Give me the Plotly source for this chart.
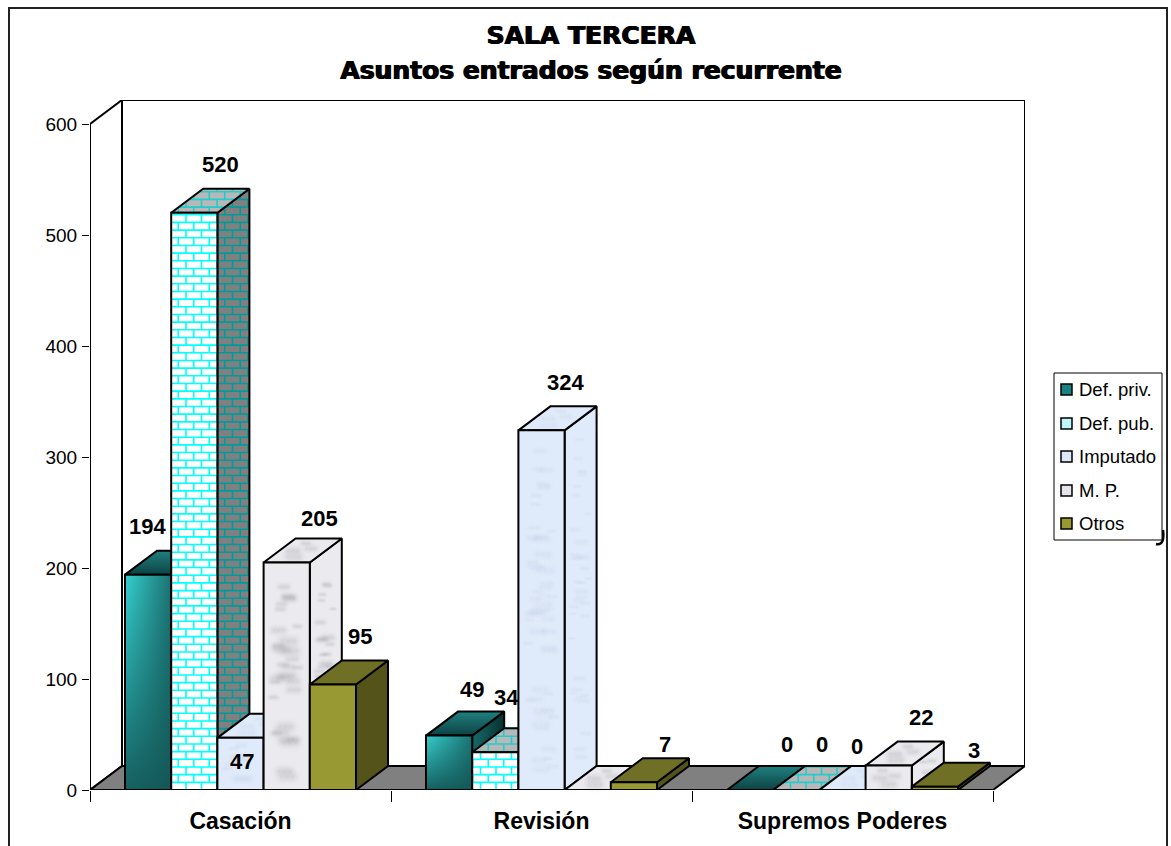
import plotly.graph_objects as go

title_lines = ['SALA TERCERA', 'Asuntos entrados según recurrente']
categories = ['Casación', 'Revisión', 'Supremos Poderes']
series_names = ['Def. priv.', 'Def. pub.', 'Imputado', 'M. P.', 'Otros']

def_priv = [194, 49, 0]
def_pub = [520, 34, 0]
imputado = [47, 324, 0]
mp = [205, 0, 22]
otros = [95, 7, 3]
series_values = [def_priv, def_pub, imputado, mp, otros]

y_ticks = [0, 100, 200, 300, 400, 500, 600]

# label shift from the top centre of each bar, in pixels (moved by hand in the original)
label_shifts = [
    [(-1, 48), (23, 46), (37, 46)],
    [(26, 48), (11, 55), (26, 46)],
    [(1, -24), (24, 48), (14, 44)],
    [(33, 44), None, (32, 48)],
    [(27, 48), (31, 38), (39, 36)],
]

# plot box in page pixels
LEFT, BOTTOM, RIGHT, TOP = 90, 790, 1025, 100
CAT_PX = 301
UNIT_PX = 1.11
DEPTH_X = 32 / CAT_PX
DEPTH_Y = 24 / UNIT_PX
BAR_W = 46.2 / CAT_PX
GAP = 35 / CAT_PX
FONT = 'Liberation Sans'
LINE = 2

fig = go.Figure()


def px(x):
    return (x - LEFT) / (RIGHT - LEFT)


def py(y):
    return (BOTTOM - y) / (BOTTOM - TOP)


def face(poly, color=None, line=True, gradient=None):
    xs = [p[0] for p in poly] + [poly[0][0]]
    ys = [p[1] for p in poly] + [poly[0][1]]
    t = dict(x=xs, y=ys, mode='lines', fill='toself', hoverinfo='skip', showlegend=False,
             cliponaxis=False, line=dict(color='black' if line else 'rgba(0,0,0,0)', width=LINE if line else 0))
    if gradient:
        t['fillgradient'] = dict(type=gradient[0], colorscale=[[0, gradient[1]], [1, gradient[2]]])
    else:
        t['fillcolor'] = color or 'rgba(0,0,0,0)'
    fig.add_trace(go.Scatter(**t))


def slice_poly(poly, along_y, val):
    # range of a convex polygon cut at x=val or y=val, in pixels
    hits = []
    n = len(poly)
    for k in range(n):
        a, b = poly[k], poly[(k + 1) % n]
        a0, a1 = (a[1], a[0]) if along_y else a
        b0, b1 = (b[1], b[0]) if along_y else b
        if a0 == b0:
            if a0 == val:
                hits += [a1, b1]
        elif min(a0, b0) <= val <= max(a0, b0):
            hits.append(a1 + (val - a0) / (b0 - a0) * (b1 - a1))
    return (min(hits), max(hits)) if hits else None


def bricks(poly, color, width=1.6):
    # mortar lines of the brick fill: the pattern stays square to the page on every face
    pts = [(p[0] * CAT_PX, p[1] * UNIT_PX) for p in poly]
    ymin, ymax = min(p[1] for p in pts), max(p[1] for p in pts)
    xmin, xmax = min(p[0] for p in pts), max(p[0] for p in pts)
    xs, ys = [], []
    row_h, brick_w = 7.67, 15.5
    row = int(ymin // row_h)
    while row * row_h <= ymax:
        y = row * row_h
        cut = slice_poly(pts, True, y) if ymin <= y <= ymax else None
        if cut:
            xs += [cut[0] / CAT_PX, cut[1] / CAT_PX, None]
            ys += [y / UNIT_PX, y / UNIT_PX, None]
        j = int(xmin // brick_w) - 1
        while j * brick_w <= xmax:
            x = j * brick_w + (row % 2) * brick_w / 2 + 3
            cutx = slice_poly(pts, False, x) if xmin <= x <= xmax else None
            if cutx:
                y0, y1 = max(y, cutx[0]), min(y + row_h, cutx[1])
                if y1 > y0:
                    xs += [x / CAT_PX, x / CAT_PX, None]
                    ys += [y0 / UNIT_PX, y1 / UNIT_PX, None]
            j += 1
        row += 1
    fig.add_trace(go.Scatter(x=xs, y=ys, mode='lines', line=dict(color=color, width=width),
                             hoverinfo='skip', showlegend=False, cliponaxis=False))


def marble(poly, color):
    # soft cloudy blotches for the textured fills (p0, p1, p3 span the face)
    p0, p1, p3 = poly[0], poly[1], poly[3]
    ux, uy = p1[0] - p0[0], p1[1] - p0[1]
    vx, vy = p3[0] - p0[0], p3[1] - p0[1]
    wide = ux * CAT_PX
    high = abs(vy * UNIT_PX)
    biggest = min(24, wide * 0.5, max(high, 10))
    xs, ys, sizes = [], [], []
    for k in range(1, int(wide * high / 330) + 2):
        size = biggest * (0.45 + 0.55 * ((k * 0.381966) % 1))
        step = size * 0.28
        edge = min(0.5, (size / 2 + step) / wide)
        u = edge + (1 - 2 * edge) * ((k * 0.7548777) % 1)
        v = 0.05 + 0.9 * ((k * 0.5698403 + k * k * 0.0131) % 1)
        for shift in (-step, 0, step):
            xs.append(p0[0] + u * ux + v * vx + shift / CAT_PX)
            ys.append(p0[1] + u * uy + v * vy)
            sizes.append(size)
    fig.add_trace(go.Scatter(x=xs, y=ys, mode='markers', hoverinfo='skip', showlegend=False, cliponaxis=False,
                             marker=dict(size=sizes, color='rgba(255,255,255,0)', line=dict(width=0),
                                         gradient=dict(type='radial', color=color))))


# walls and floor
top_y = (BOTTOM - TOP) / UNIT_PX
x_end = 3
face([(0, 0), (DEPTH_X, DEPTH_Y), (DEPTH_X, top_y), (0, 600)], 'white')
face([(DEPTH_X, DEPTH_Y), (x_end + DEPTH_X, DEPTH_Y), (x_end + DEPTH_X, top_y), (DEPTH_X, top_y)], 'white')
face([(0, 0), (x_end, 0), (x_end + DEPTH_X, DEPTH_Y), (DEPTH_X, DEPTH_Y)], '#808080')


def draw_teal(front, side, top):
    face(side, gradient=('horizontal', '#176a6a', '#07302f'))
    face(top, gradient=('vertical', '#0d4243', '#208080'))
    if front[2][1] > 0:
        face(front, line=False, gradient=('horizontal', '#36d0d0', '#1c7272'))
        face(front, gradient=('vertical', 'rgba(18,84,84,0.9)', 'rgba(18,84,84,0)'))


def draw_brick(front, side, top):
    face(side, '#808080', line=False)
    bricks(side, '#009a9a')
    face(side)
    face(top, '#b8b8b8', line=False)
    bricks(top, '#22cccc')
    face(top)
    if front[2][1] > 0:
        face(front, 'white', line=False)
        bricks(front, '#00ffff')
        face(front)


def draw_marble(front, side, top, base, blot):
    for poly in (side, top, front):
        face(poly, base, line=False)
        if abs(poly[2][1] - poly[0][1]) > 0:
            marble(poly, blot)
        face(poly)


def draw_olive(front, side, top):
    face(side, '#54541a')
    face(top, '#6f7025')
    face(front, '#999933')


for c in range(len(categories)):
    for s, vals in enumerate(series_values):
        v = vals[c]
        x0 = c + GAP + s * BAR_W
        x1 = x0 + BAR_W
        front = [(x0, 0), (x1, 0), (x1, v), (x0, v)]
        side = [(x1, 0), (x1 + DEPTH_X, DEPTH_Y), (x1 + DEPTH_X, v + DEPTH_Y), (x1, v)]
        top = [(x0, v), (x1, v), (x1 + DEPTH_X, v + DEPTH_Y), (x0 + DEPTH_X, v + DEPTH_Y)]
        if s == 0:
            draw_teal(front, side, top)
        elif s == 1:
            draw_brick(front, side, top)
        elif s == 2:
            draw_marble(front, side, top, '#dfeafa', 'rgba(175,195,228,0.3)')
        elif s == 3:
            draw_marble(front, side, top, '#ebebef', 'rgba(120,120,130,0.28)')
        else:
            draw_olive(front, side, top)

annotations = []
for s, vals in enumerate(series_values):
    for c, v in enumerate(vals):
        shift = label_shifts[s][c]
        if shift is None:
            continue
        annotations.append(dict(x=c + GAP + (s + 0.5) * BAR_W, y=v, xref='x', yref='y', text=str(v),
                                xshift=shift[0], yshift=shift[1], showarrow=False,
                                font=dict(family=FONT, size=22, color='black', weight='bold')))

# legend box, drawn by hand because the swatches are much tighter than a plotly legend allows
shapes = [
    # page frame
    dict(type='path', xref='paper', yref='paper', line=dict(color='#222222', width=2),
         path='M %f,%f L %f,%f L %f,%f L %f,%f' % (px(9), py(846), px(9), py(8), px(1167), py(8), px(1167), py(846))),
    # stray bracket poking out under the legend
    dict(type='path', xref='paper', yref='paper', line=dict(color='black', width=2.5),
         path='M %f,%f Q %f,%f %f,%f' % (px(1156), py(544), px(1165), py(546), px(1163), py(530))),
    dict(type='rect', xref='paper', yref='paper', x0=px(1054), x1=px(1162), y0=py(373), y1=py(540),
         fillcolor='white', line=dict(color='black', width=1)),
]
legend_y = [389.5, 423.5, 456.5, 490.5, 523.5]
legend_fill = ['#1a8080', '#bdf5f8', '#dde9f8', '#e4e4ea', '#999933']
for name, y, color in zip(series_names, legend_y, legend_fill):
    shapes.append(dict(type='rect', xref='paper', yref='paper', x0=px(1061), x1=px(1072), y0=py(y + 5.5), y1=py(y - 5.5),
                       fillcolor=color, line=dict(color='black', width=1.5)))
    annotations.append(dict(x=px(1077), y=py(y), xref='paper', yref='paper', text=name, showarrow=False,
                            xanchor='left', font=dict(family=FONT, size=18.5, color='black')))

title_shadow = '0.7px 0 0 black, -0.7px 0 0 black'
fig.update_layout(
    width=1171, height=846, autosize=False,
    margin=dict(l=LEFT, r=1171 - RIGHT, t=TOP, b=846 - BOTTOM),
    paper_bgcolor='white', plot_bgcolor='white', showlegend=False,
    title=dict(text='<span style="font-size:25px">%s</span><br><span style="font-size:25px">%s</span>' % tuple(title_lines),
               x=591 / 1171, xanchor='center', y=1 - 44 / 846, yanchor='middle',
               font=dict(family='DejaVu Sans', size=27, color='black', weight='bold', shadow=title_shadow)),
    xaxis=dict(range=[0, (RIGHT - LEFT) / CAT_PX], showgrid=False, zeroline=False, showline=False, automargin=False,
               tickmode='array', tickvals=[0.5, 1.5, 2.5], ticktext=categories,
               ticks='outside', ticklen=10, tickcolor='rgba(0,0,0,0)',
               tickfont=dict(family=FONT, size=23, color='black', weight='bold'),
               minor=dict(tickmode='array', tickvals=[0, 1, 2, 3], ticks='outside', ticklen=11, tickcolor='black', tickwidth=1)),
    yaxis=dict(range=[0, top_y], showgrid=False, zeroline=False, showline=False, automargin=False,
               tickmode='array', tickvals=y_ticks, ticks='outside', ticklen=7, tickcolor='black', tickwidth=1,
               ticklabelstandoff=1, tickfont=dict(family=FONT, size=19, color='black')),
    shapes=shapes, annotations=annotations,
)

fig.write_html('out.html', config=dict(displayModeBar=False), post_script="document.body.style.margin='0';")
